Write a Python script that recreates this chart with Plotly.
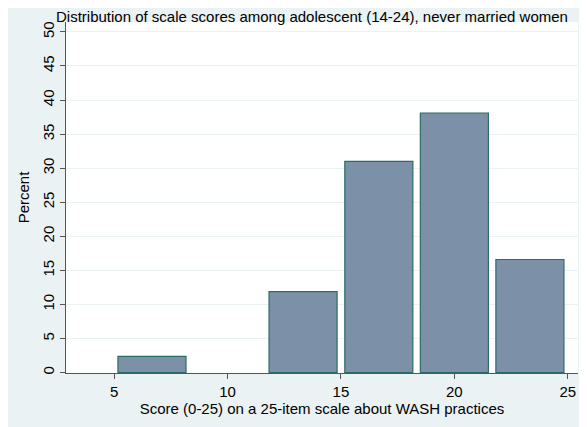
import plotly.graph_objects as go

# Data
bin_centers = [6.67, 10.0, 13.33, 16.67, 20.0, 23.33]
percent = [2.4, 0.0, 11.9, 31.0, 38.1, 16.6]
x_ticks = [5, 10, 15, 20, 25]
y_ticks = [0, 5, 10, 15, 20, 25, 30, 35, 40, 45, 50]

title_text = "Distribution of scale scores among adolescent (14-24), never married women"
x_title = "Score (0-25) on a 25-item scale about WASH practices"
y_title = "Percent"

W, H = 579, 419
L, R, T, B = 58, 9, 14, 54
pw, ph = W - L - R, H - T - B

FONT = "Liberation Sans, Arial, sans-serif"
BG = "#EAF2F3"
FS = 15

fig = go.Figure(go.Bar(
    x=bin_centers, y=[v if v > 0 else None for v in percent], width=3.0,
    marker=dict(color="#7C91A8", line=dict(color="#2C6C66", width=1.2)),
))

def px_x(p):
    return (p - L) / pw

def px_y(p):
    return (H - B - p) / ph

fig.update_layout(
    width=W, height=H,
    margin=dict(l=L, r=R, t=T, b=B, pad=0, autoexpand=False),
    paper_bgcolor=BG, plot_bgcolor="white",
    showlegend=False,
    font=dict(family=FONT, size=FS, color="black"),
    xaxis=dict(
        range=[2.88, 25.45], tickvals=x_ticks, ticks="outside", ticklen=5,
        tickcolor="#555555", showgrid=False, zeroline=False, automargin=False,
        showline=True, linecolor="#555555", linewidth=1.3,
        tickfont=dict(size=FS), title=dict(text=x_title, font=dict(size=FS), standoff=0),
    ),
    yaxis=dict(
        range=[-0.05, 51.45], tickvals=y_ticks, ticks="outside", ticklen=5,
        tickcolor="#555555", showgrid=True, gridcolor=BG, gridwidth=1,
        zeroline=False, showline=True, linecolor="#555555", linewidth=1.3,
        automargin=False, tickangle=-90, tickfont=dict(size=FS),
        title=dict(text=y_title, font=dict(size=FS), standoff=6),
    ),
    annotations=[
        dict(text=title_text, xref="paper", yref="paper",
             x=px_x(303.5), y=px_y(8.5), xanchor="center", yanchor="middle",
             showarrow=False, font=dict(size=FS, family=FONT, color="black")),
    ],
)

fig.write_html("out.html")
